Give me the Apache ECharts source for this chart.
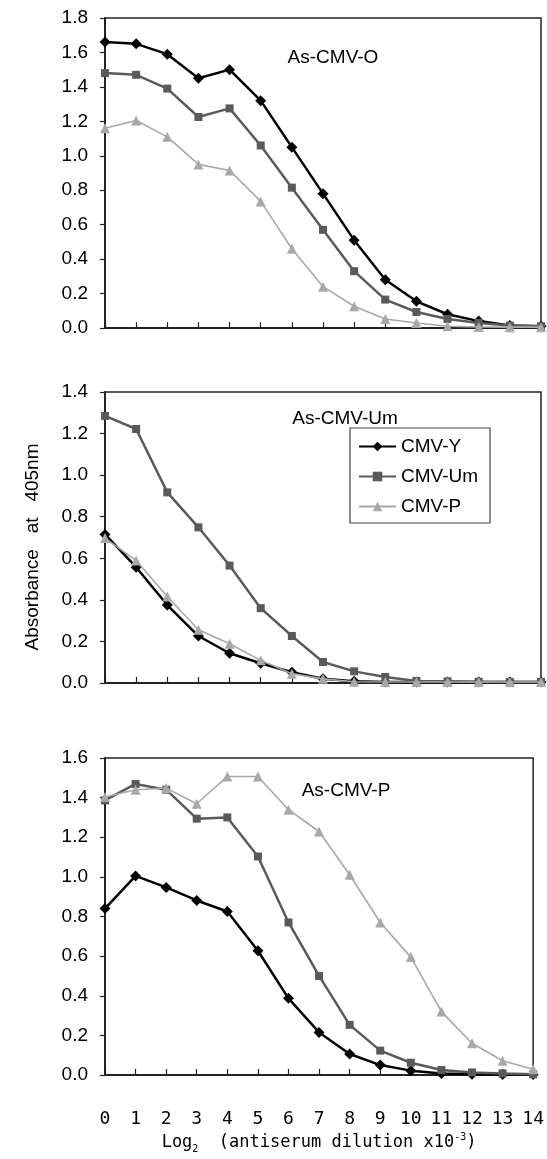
<!DOCTYPE html>
<html>
<head>
<meta charset="utf-8">
<script src="https://cdn.jsdelivr.net/npm/echarts@6/dist/echarts.min.js"></script>
<style>
html,body{margin:0;padding:0;background:#fff;}
#chart{width:547px;height:1159px;}
</style>
</head>
<body>
<div id="chart"></div>
<script>
// Dilution steps (log2 of antiserum dilution x10^-3)
const dilutions = [0,1,2,3,4,5,6,7,8,9,10,11,12,13,14];
const seriesNames = ['CMV-Y','CMV-Um','CMV-P'];
const panelTitles = ['As-CMV-O','As-CMV-Um','As-CMV-P'];
const yMax = [1.8, 1.4, 1.6];

// Panel 1: As-CMV-O
const oY  = [1.66,1.65,1.59,1.45,1.50,1.32,1.05,0.78,0.51,0.28,0.155,0.08,0.04,0.015,0.01];
const oUm = [1.48,1.47,1.39,1.225,1.275,1.06,0.815,0.57,0.33,0.165,0.093,0.052,0.029,0.014,0.01];
const oP  = [1.16,1.205,1.11,0.95,0.915,0.735,0.46,0.24,0.126,0.052,0.029,0.01,0.006,0.005,0.005];
// Panel 2: As-CMV-Um
const umY  = [0.715,0.557,0.375,0.226,0.143,0.095,0.052,0.02,0.008,0.005,0.005,0.005,0.005,0.005,0.005];
const umUm = [1.285,1.222,0.917,0.749,0.565,0.36,0.226,0.101,0.056,0.029,0.01,0.008,0.006,0.005,0.005];
const umP  = [0.697,0.589,0.416,0.256,0.189,0.109,0.045,0.02,0.006,0.005,0.005,0.005,0.005,0.005,0.005];
// Panel 3: As-CMV-P
const pY  = [0.84,1.005,0.947,0.881,0.825,0.627,0.387,0.215,0.106,0.05,0.022,0.008,0.004,0.003,0.002];
const pUm = [1.386,1.469,1.44,1.294,1.30,1.103,0.77,0.50,0.253,0.123,0.062,0.025,0.013,0.008,0.004];
const pP  = [1.403,1.44,1.448,1.369,1.507,1.507,1.339,1.229,1.011,0.77,0.595,0.32,0.16,0.072,0.029];

const panels = [[oY,oUm,oP],[umY,umUm,umP],[pY,pUm,pP]];

const styles = [
  {color:'#000000', width:2.5, symbol:'diamond', size:11},
  {color:'#5a5a5a', width:2.5, symbol:'rect', size:8},
  {color:'#a8a8a8', width:1.6, symbol:'triangle', size:10}
];

const grids = [
  {left:105, right:6, top:18, height:310},
  {left:105, right:6, top:392, height:291},
  {left:105, right:6, top:758, height:317}
];

const sans = '"Liberation Sans", Arial, sans-serif';
const mono = '"DejaVu Sans Mono", "Liberation Mono", monospace';

const option = {
  animation:false,
  backgroundColor:'#fff',
  grid: grids.map(g => Object.assign({show:true, borderColor:'#222', borderWidth:1.5, backgroundColor:'transparent'}, g)),
  xAxis: grids.map((g,i) => ({
    gridIndex:i, type:'value', min:0, max:14, interval:1,
    axisLine:{show:true, onZero:false, lineStyle:{color:'#222', width:2}},
    axisTick:{show:true, inside:true, length:6, lineStyle:{color:'#222', width:1.2}},
    splitLine:{show:false},
    axisLabel:{show:i===2, margin:35, color:'#000', fontSize:18, fontFamily:mono},
    name: i===2 ? '{t|Log}{s|2}{t|  (antiserum dilution x10}{u|-3}{t|)}' : '',
    nameLocation:'middle', nameGap:57,
    nameTextStyle:{
      rich:{
        t:{fontSize:17, fontFamily:mono, color:'#000', lineHeight:22},
        s:{fontSize:10, fontFamily:mono, color:'#000', verticalAlign:'bottom', lineHeight:22},
        u:{fontSize:10, fontFamily:mono, color:'#000', verticalAlign:'top', lineHeight:22}
      }
    }
  })),
  yAxis: grids.map((g,i) => ({
    gridIndex:i, type:'value', min:0, max:yMax[i], interval:0.2,
    axisLine:{show:true, lineStyle:{color:'#222', width:2}},
    axisTick:{show:true, inside:false, length:5, lineStyle:{color:'#222', width:1.2}},
    splitLine:{show:false},
    axisLabel:{margin:17, color:'#000', fontSize:19, fontFamily:sans, formatter:v => v.toFixed(1)}
  })),
  legend:{
    show:true, orient:'vertical', left:350, top:428,
    data:seriesNames,
    itemWidth:37, itemHeight:12, itemGap:11,
    padding:[9,12,7,8],
    borderColor:'#444', borderWidth:1.2, backgroundColor:'#fff',
    textStyle:{fontSize:19, fontFamily:sans, color:'#000'}
  },
  title: panelTitles.map((t,i) => ({
    text:t, left:[328,340,341][i], top:[43,404,776][i], textAlign:'center',
    textStyle:{fontSize:19, fontWeight:'normal', fontFamily:sans, color:'#000'}
  })),
  graphic:[{
    type:'text', x:33, y:547, rotation:Math.PI/2,
    style:{text:'Absorbance   at   405nm', font:'19px "Liberation Sans", Arial, sans-serif', fill:'#000', textAlign:'center', textVerticalAlign:'middle'}
  }],
  series: []
};

panels.forEach((vals, pi) => {
  vals.forEach((arr, si) => {
    const st = styles[si];
    option.series.push({
      name: seriesNames[si], type:'line', xAxisIndex:pi, yAxisIndex:pi,
      data: dilutions.map((d,k) => [d, arr[k]]),
      symbol: st.symbol, symbolSize: st.size, showSymbol:true, clip:false,
      lineStyle:{color:st.color, width:st.width},
      itemStyle:{color:st.color, borderWidth:0},
      z: 2 + si
    });
  });
});

const chart = echarts.init(document.getElementById('chart'), null, {renderer:'canvas'});
chart.setOption(option);
</script>
</body>
</html>
